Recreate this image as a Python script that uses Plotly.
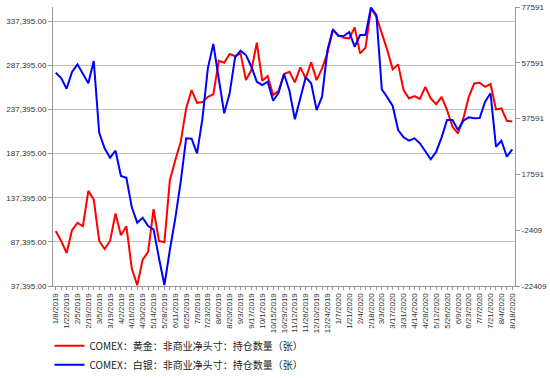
import plotly.graph_objects as go
from datetime import date, timedelta

# weekly dates (Tuesdays) from 1/8/2019 to 8/18/2020
start = date(2019, 1, 8)
dates = [start + timedelta(weeks=k) for k in range(85)]
date_labels = [f"{d.month}/{d.day}/{d.year}" for d in dates]

gold = [99754, 88416, 74810, 100548, 108824, 105083, 145106, 135355, 88416, 79346,
        88416, 119482, 94879, 105083, 57123, 38189, 67327, 75944, 124357, 88416,
        86942, 157238, 179914, 200662, 238531, 259280, 244880, 245674, 251683, 254404,
        292500, 290232, 300096, 297829, 300890, 270618, 281956, 312908, 269824, 275153,
        253611, 258486, 277420, 280028, 268010, 285017, 272545, 290686, 270618, 283883,
        301570, 327308, 321639, 318577, 317897, 330369, 300890, 307239, 351911, 342387,
        323566, 304632, 282749, 288418, 259280, 249869, 252477, 249416, 263021, 249869,
        243406, 251683, 236604, 217669, 210186, 227193, 251683, 266876, 267556, 263021,
        266082, 237397, 238531, 224472, 223792]

silver = [54038, 52138, 48303, 54289, 57048, 53572, 50239, 58231, 32534, 26943,
          23574, 26083, 17015, 16406, 5797, 278, 2070, -905, -2088, -12481,
          -22051, -9507, 1855, 14972, 30527, 30383, 25151, 37695, 55800, 64324,
          51421, 39487, 46655, 59557, 61923, 60381, 56188, 50812, 49629, 50812,
          44003, 46870, 53572, 47587, 37336, 44863, 52389, 50239, 40669, 45436,
          62173, 69592, 67191, 67191, 68625, 63356, 67549, 67549, 77400, 74717,
          48088, 45221, 42103, 33501, 30885, 29667, 30527, 28735, 26083, 23000,
          25724, 30885, 37085, 37085, 33501, 36835, 38053, 37695, 37802, 43644,
          46655, 27516, 29667, 23932, 26584]

left_ticks = [37395, 87395, 137395, 187395, 237395, 287395, 337395]
left_labels = [f"{v:,.2f}" for v in left_ticks]
right_ticks = [-22409, -2409, 17591, 37591, 57591, 77591]
right_labels = [str(v) for v in right_ticks]

name_gold = "COMEX：黄金：非商业净头寸：持仓数量（张）"
name_silver = "COMEX：白银：非商业净头寸：持仓数量（张）"

idx = list(range(len(dates)))

fig = go.Figure()
fig.add_trace(go.Scatter(x=idx, y=gold, mode="lines", name=name_gold,
                         line=dict(color="#ff0000", width=2)))
fig.add_trace(go.Scatter(x=idx, y=silver, mode="lines", name=name_silver,
                         line=dict(color="#0000ff", width=2), yaxis="y2"))

tick_font = dict(family="Liberation Sans, Arial, sans-serif", size=8, color="#333333")

fig.update_layout(
    width=550, height=378,
    margin=dict(l=53, r=35, t=7, b=92, autoexpand=False),
    paper_bgcolor="white", plot_bgcolor="white",
    showlegend=True,
    legend=dict(x=0.09, xref="container", y=0.124, yref="container",
                xanchor="left", yanchor="top",
                orientation="v", font=dict(family="Noto Sans CJK SC", size=10, color="#222222"),
                bgcolor="rgba(0,0,0,0)", tracegroupgap=0, itemwidth=30),
    xaxis=dict(range=[-0.5, 84.5], tickmode="array", tickvals=idx[::2],
               ticktext=date_labels[::2], tickangle=-90, tickfont=tick_font,
               showgrid=False, showline=True, linecolor="#999999", linewidth=1,
               ticks="outside", ticklen=3, tickcolor="#999999", automargin=False,
               minor=dict(tickmode="array", tickvals=idx[1::2], ticks="outside",
                          ticklen=3, tickcolor="#999999"),
               zeroline=False, fixedrange=True),
    yaxis=dict(range=[37395, 353400], tickmode="array", tickvals=left_ticks,
               ticktext=left_labels, tickfont=tick_font, automargin=False,
               showgrid=True, gridcolor="#c0c0c0", gridwidth=1,
               showline=True, linecolor="#999999", linewidth=1,
               ticks="outside", ticklen=4, tickcolor="#999999", zeroline=False),
    yaxis2=dict(range=[-22409, 77591], tickmode="array", tickvals=right_ticks,
                ticktext=right_labels, tickfont=tick_font, overlaying="y", side="right",
                automargin=False,
                showgrid=False, showline=True, linecolor="#999999", linewidth=1,
                ticks="outside", ticklen=4, tickcolor="#999999", zeroline=False),
)

fig.write_html("out.html", config={"displayModeBar": False},
               post_script="document.body.style.margin='0px';document.body.style.overflow='hidden';")
